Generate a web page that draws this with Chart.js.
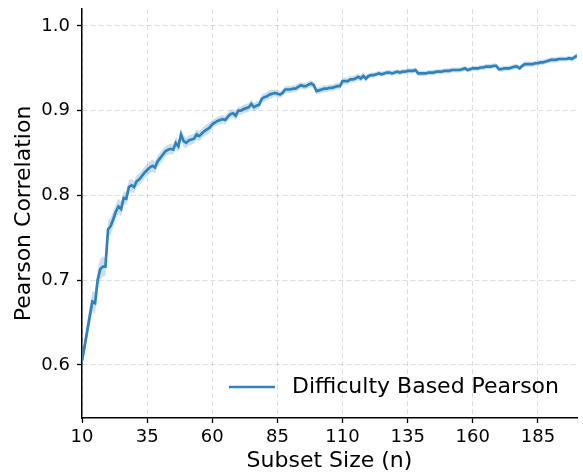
<!DOCTYPE html>
<html>
<head>
<meta charset="utf-8">
<script src="https://cdn.jsdelivr.net/npm/chart.js@4/dist/chart.umd.min.js"></script>
<style>
  html, body { margin: 0; padding: 0; background: #fff; }
  #wrap { width: 583px; height: 475px; }
</style>
</head>
<body>
<div id="wrap"><canvas id="chart"></canvas></div>
<script>
// subset sizes n = 10 .. 200
const subsetSizes = Array.from({ length: 191 }, (_, i) => 10 + i)

// mean pearson correlation
const pearson = [
  0.605, 0.622, 0.640, 0.658, 0.675, 0.673, 0.700, 0.713, 0.716, 0.716,
  0.760, 0.764, 0.772, 0.781, 0.787, 0.784, 0.797, 0.796, 0.810, 0.812,
  0.810, 0.817, 0.819, 0.823, 0.827, 0.830, 0.833, 0.835, 0.833, 0.840,
  0.844, 0.848, 0.852, 0.854, 0.855, 0.854, 0.862, 0.858, 0.872, 0.864,
  0.862, 0.865, 0.866, 0.867, 0.872, 0.870, 0.873, 0.876, 0.878, 0.880,
  0.884, 0.886, 0.888, 0.889, 0.890, 0.889, 0.893, 0.896, 0.897, 0.894,
  0.900, 0.900, 0.902, 0.903, 0.904, 0.908, 0.904, 0.906, 0.907, 0.914,
  0.916, 0.917, 0.919, 0.920, 0.921, 0.920, 0.919, 0.921, 0.925, 0.925,
  0.925, 0.926, 0.926, 0.928, 0.930, 0.929, 0.929, 0.931, 0.932, 0.930,
  0.923, 0.924, 0.925, 0.926, 0.926, 0.927, 0.927, 0.928, 0.929, 0.929,
  0.935, 0.935, 0.935, 0.937, 0.937, 0.938, 0.940, 0.938, 0.941, 0.938,
  0.941, 0.942, 0.942, 0.943, 0.944, 0.943, 0.944, 0.945, 0.945, 0.944,
  0.945, 0.946, 0.945, 0.946, 0.946, 0.947, 0.947, 0.947, 0.948, 0.944,
  0.944, 0.944, 0.944, 0.945, 0.945, 0.945, 0.946, 0.946, 0.946, 0.947,
  0.947, 0.947, 0.948, 0.948, 0.948, 0.948, 0.949, 0.950, 0.948, 0.949,
  0.950, 0.950, 0.950, 0.951, 0.951, 0.952, 0.952, 0.952, 0.953, 0.953,
  0.949, 0.949, 0.950, 0.950, 0.950, 0.951, 0.952, 0.952, 0.950, 0.953,
  0.955, 0.955, 0.955, 0.955, 0.956, 0.956, 0.957, 0.957, 0.958, 0.959,
  0.960, 0.960, 0.960, 0.961, 0.961, 0.961, 0.961, 0.962, 0.961, 0.963,
  0.965
]

// half width of the shaded band around the mean
const spread = [
  0.008, 0.009, 0.010, 0.012, 0.012, 0.013, 0.013, 0.012, 0.012, 0.011,
  0.010, 0.010, 0.009, 0.009, 0.009, 0.009, 0.008, 0.008, 0.008, 0.008,
  0.007, 0.007, 0.007, 0.007, 0.007, 0.007, 0.007, 0.007, 0.007, 0.007,
  0.007, 0.007, 0.006, 0.006, 0.006, 0.006, 0.007, 0.007, 0.007, 0.007,
  0.006, 0.006, 0.006, 0.006, 0.006, 0.006, 0.006, 0.006, 0.006, 0.006,
  0.005, 0.005, 0.005, 0.005, 0.005, 0.005, 0.005, 0.005, 0.005, 0.005,
  0.005, 0.005, 0.005, 0.005, 0.005, 0.005, 0.005, 0.005, 0.005, 0.005,
  0.005, 0.005, 0.005, 0.005, 0.004, 0.004, 0.004, 0.004, 0.004, 0.004,
  0.004, 0.004, 0.004, 0.004, 0.004, 0.004, 0.004, 0.004, 0.004, 0.004,
  0.004, 0.004, 0.004, 0.004, 0.004, 0.004, 0.004, 0.004, 0.004, 0.004,
  0.004, 0.004, 0.004, 0.004, 0.004, 0.004, 0.004, 0.004, 0.004, 0.004,
  0.003, 0.003, 0.003, 0.003, 0.003, 0.003, 0.003, 0.003, 0.003, 0.003,
  0.003, 0.003, 0.003, 0.003, 0.003, 0.003, 0.003, 0.003, 0.003, 0.003,
  0.003, 0.003, 0.003, 0.003, 0.003, 0.003, 0.003, 0.003, 0.003, 0.003,
  0.003, 0.003, 0.003, 0.003, 0.003, 0.003, 0.003, 0.003, 0.003, 0.003,
  0.003, 0.003, 0.003, 0.003, 0.003, 0.003, 0.003, 0.003, 0.003, 0.003,
  0.003, 0.003, 0.003, 0.003, 0.003, 0.003, 0.003, 0.003, 0.003, 0.003,
  0.003, 0.003, 0.003, 0.003, 0.003, 0.003, 0.003, 0.003, 0.003, 0.003,
  0.003, 0.003, 0.003, 0.003, 0.003, 0.003, 0.003, 0.003, 0.003, 0.003,
  0.003
]

const xTicks = [10, 35, 60, 85, 110, 135, 160, 185]
const yTicks = [0.6, 0.7, 0.8, 0.9, 1.0]

const seriesLabel = 'Difficulty Based Pearson'
const lineColor = '#3182bd'
const bandColor = 'rgba(49, 130, 189, 0.25)'
const fontFamily = '"DejaVu Sans", sans-serif'

const points = vals => subsetSizes.map((n, i) => ({ x: n, y: vals[i] }))
const upper = pearson.map((v, i) => v + spread[i])
const lower = pearson.map((v, i) => v - spread[i])

// legend drawn in the lower right of the plot, no frame
const cornerLegend = {
  id: 'cornerLegend',
  afterDraw(chart) {
    const { ctx, chartArea } = chart
    const ds = chart.data.datasets[2]
    ctx.save()
    ctx.font = '22px ' + fontFamily
    const textW = ctx.measureText(ds.label).width
    const textRight = chartArea.right - 18
    const textLeft = textRight - textW
    const y = chartArea.bottom - 31
    ctx.strokeStyle = ds.borderColor
    ctx.lineWidth = 2.5
    ctx.beginPath()
    ctx.moveTo(textLeft - 63, y)
    ctx.lineTo(textLeft - 17, y)
    ctx.stroke()
    ctx.fillStyle = '#000'
    ctx.textBaseline = 'middle'
    ctx.fillText(ds.label, textLeft, y)
    ctx.restore()
  }
}

const axisCommon = {
  grid: { color: 'rgba(0,0,0,0.13)', lineWidth: 1, tickColor: '#000', tickLength: 5, tickWidth: 1.3 },
  border: { color: '#000', width: 1.5, dash: [5, 3] }
}

new Chart(document.getElementById('chart'), {
  type: 'line',
  data: {
    datasets: [
      { label: 'upper', data: points(upper), borderWidth: 0, pointRadius: 0, backgroundColor: bandColor, fill: '+1' },
      { label: 'lower', data: points(lower), borderWidth: 0, pointRadius: 0, fill: false },
      { label: seriesLabel, data: points(pearson), borderColor: lineColor, borderWidth: 2.7, pointRadius: 0, tension: 0, fill: false }
    ]
  },
  options: {
    responsive: true,
    maintainAspectRatio: false,
    animation: false,
    layout: { padding: { top: 9, right: 6, left: 0, bottom: 0 } },
    plugins: { legend: { display: false }, tooltip: { enabled: false } },
    scales: {
      x: {
        ...axisCommon,
        type: 'linear',
        min: 10,
        max: 200,
        afterBuildTicks: s => { s.ticks = xTicks.map(v => ({ value: v })) },
        afterFit: s => { s.height = 57; s.paddingLeft = 0; s.paddingRight = 0 },
        ticks: { color: '#000', font: { family: fontFamily, size: 18 }, padding: 4, maxRotation: 0 },
        title: { display: true, text: 'Subset Size (n)', color: '#000', font: { family: fontFamily, size: 22 }, padding: { top: 0, bottom: 1 } }
      },
      y: {
        ...axisCommon,
        min: 0.5374,
        max: 1.02,
        afterBuildTicks: s => { s.ticks = yTicks.map(v => ({ value: v })) },
        afterFit: s => { s.width = 82; s.paddingTop = 0; s.paddingBottom = 0 },
        ticks: { color: '#000', font: { family: fontFamily, size: 18 }, padding: 7, callback: v => v.toFixed(1) },
        title: { display: true, text: 'Pearson Correlation', color: '#000', font: { family: fontFamily, size: 22 }, padding: { top: 11, bottom: 0 } }
      }
    }
  },
  plugins: [cornerLegend]
})
</script>
</body>
</html>
